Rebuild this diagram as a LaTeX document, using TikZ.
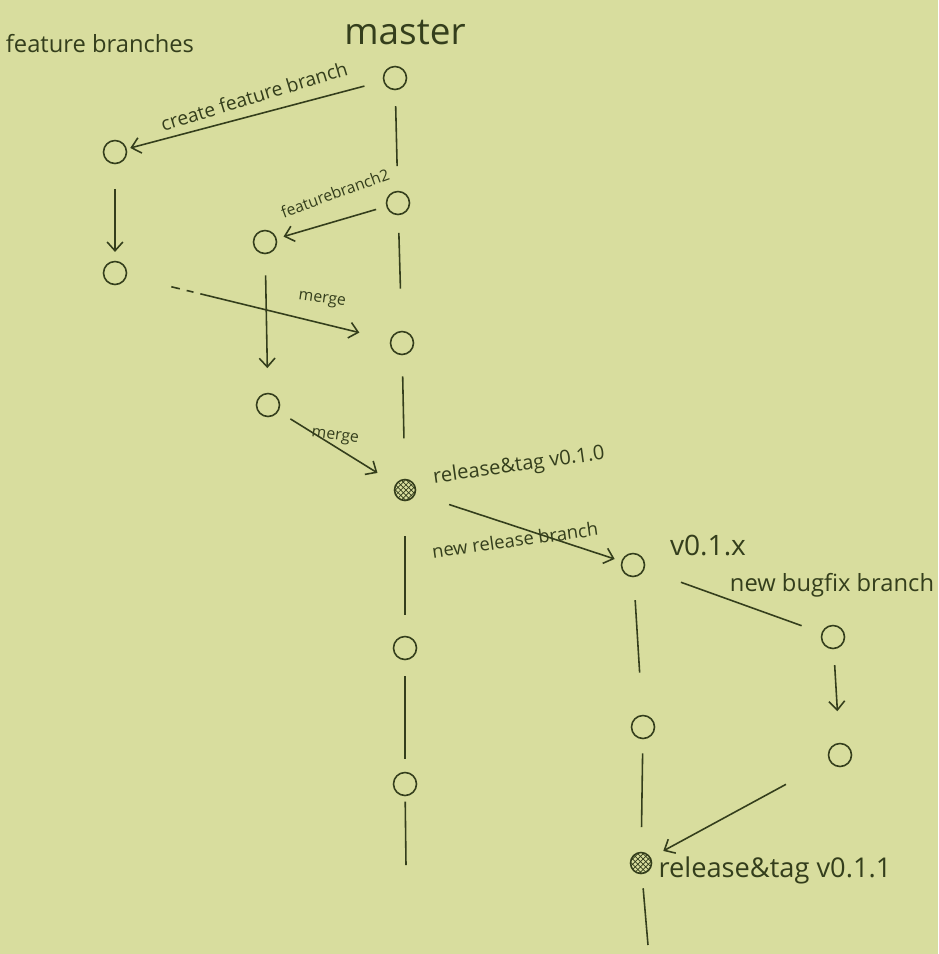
\documentclass[tikz,border=0pt]{standalone}
\usepackage{fontspec}
\setmainfont{Open Sans}
\usetikzlibrary{arrows.meta,patterns}
\definecolor{paper}{RGB}{216,221,158}
\definecolor{ink}{RGB}{52,62,28}
\begin{document}
\begin{tikzpicture}[x=0.02cm, y=-0.02cm, ink, line width=0.9pt,
    >={Straight Barb[length=5pt,width=9pt]},
    commit/.style={circle, draw, minimum size=0.46cm, inner sep=0pt},
    tagged/.style={commit, pattern=crosshatch, pattern color=ink, minimum size=0.42cm},
    note/.style={inner sep=1pt}]
            % paper
            \path[use as bounding box, fill=paper] (0,0) rectangle (938,954);

            % master
            \node[commit] (m1) at (395,78) {};
            \node[commit] (m2) at (398,203) {};
            \node[commit] (m3) at (402,343) {};
            \node[tagged] (rel1) at (405,490) {};
            \node[commit] (m5) at (405,648) {};
            \node[commit] (m6) at (405,784) {};
            \coordinate (mend) at (406,865);

            % feature branches
            \node[commit] (f1) at (115,152) {};
            \node[commit] (f2) at (115,273) {};
            \node[commit] (g1) at (265,242) {};
            \node[commit] (g2) at (268,405) {};

            % release branch
            \node[commit] (r1) at (633,565) {};
            \node[commit] (r2) at (643,727) {};
            \node[tagged] (rel2) at (641,863) {};
            \coordinate (rend) at (648,945);

            % bugfix branch
            \node[commit] (b1) at (833,637) {};
            \node[commit] (b2) at (840,755) {};

            % trunk lines
            \draw[shorten <=9pt, shorten >=14pt] (m1) -- (m2);
            \draw[shorten <=10pt, shorten >=24pt] (m2) -- (m3);
            \draw[shorten <=12pt, shorten >=23pt] (m3) -- (rel1);
            \draw[shorten <=20pt, shorten >=12pt] (rel1) -- (m5);
            \draw[shorten <=9pt, shorten >=7pt] (m5) -- (m6);
            \draw[shorten <=3pt] (m6) -- (mend);
            \draw[shorten <=13pt, shorten >=24pt] (r1) -- (r2);
            \draw[shorten <=8pt, shorten >=14pt] (r2) -- (rel2);
            \draw[shorten <=8pt] (rel2) -- (rend);

            % branch and merge arrows
            \draw[->, shorten <=11pt, shorten >=2pt] (m1) -- (f1);
            \draw[->, shorten <=14pt, shorten >=5pt] (f1) -- (f2);
            \draw[->, shorten <=6pt, shorten >=4pt] (m2) -- (g1);
            \draw[->, shorten <=12pt, shorten >=14pt] (g1) -- (g2);
            \draw[->, dash pattern=on 5pt off 4pt on 4pt off 4pt on 300pt,
                  shorten <=26pt, shorten >=18pt] (f2) -- (m3);
            \draw[->, shorten <=8pt, shorten >=12pt] (g2) -- (rel1);
            \draw[->, shorten <=20pt, shorten >=4pt] (rel1) -- (r1);
            \draw[shorten <=22pt, shorten >=12pt] (r1) -- (b1);
            \draw[->, shorten <=9pt, shorten >=18pt] (b1) -- (b2);
            \draw[->, shorten <=28pt, shorten >=8pt] (b2) -- (rel2);

            % titles
            \node[font=\fontsize{13.5}{16}\selectfont] (ftitle) at (100,44) {feature branches};
            \node[font=\fontsize{21}{24}\selectfont] (mtitle) at (405,33) {master};

            % labels
            \node[note, rotate=17, font=\fontsize{11}{13}\selectfont] (lcreate) at (254,96) {create feature branch};
            \node[note, rotate=20, font=\fontsize{9}{11}\selectfont] (lfeat2) at (335,193) {featurebranch2};
            \node[note, rotate=-8, font=\fontsize{9}{11}\selectfont] (lmerge1) at (322,300) {merge};
            \node[note, rotate=-8, font=\fontsize{9}{11}\selectfont] (lmerge2) at (335,437) {merge};
            \node[note, rotate=8, font=\fontsize{11.5}{13}\selectfont] (ltag1) at (519,466) {release\&tag v0.1.0};
            \node[note, rotate=8, font=\fontsize{10.5}{12}\selectfont] (lrel) at (515,540) {new release branch};
            \node[note, font=\fontsize{16}{18}\selectfont] (lver) at (708,545) {v0.1.x};
            \node[note, font=\fontsize{13.5}{16}\selectfont] (lbug) at (832,585) {new bugfix branch};
            \node[note, anchor=west, font=\fontsize{15.5}{18}\selectfont] (ltag2) at (656,870) {release\&tag v0.1.1};
\end{tikzpicture}
\end{document}
